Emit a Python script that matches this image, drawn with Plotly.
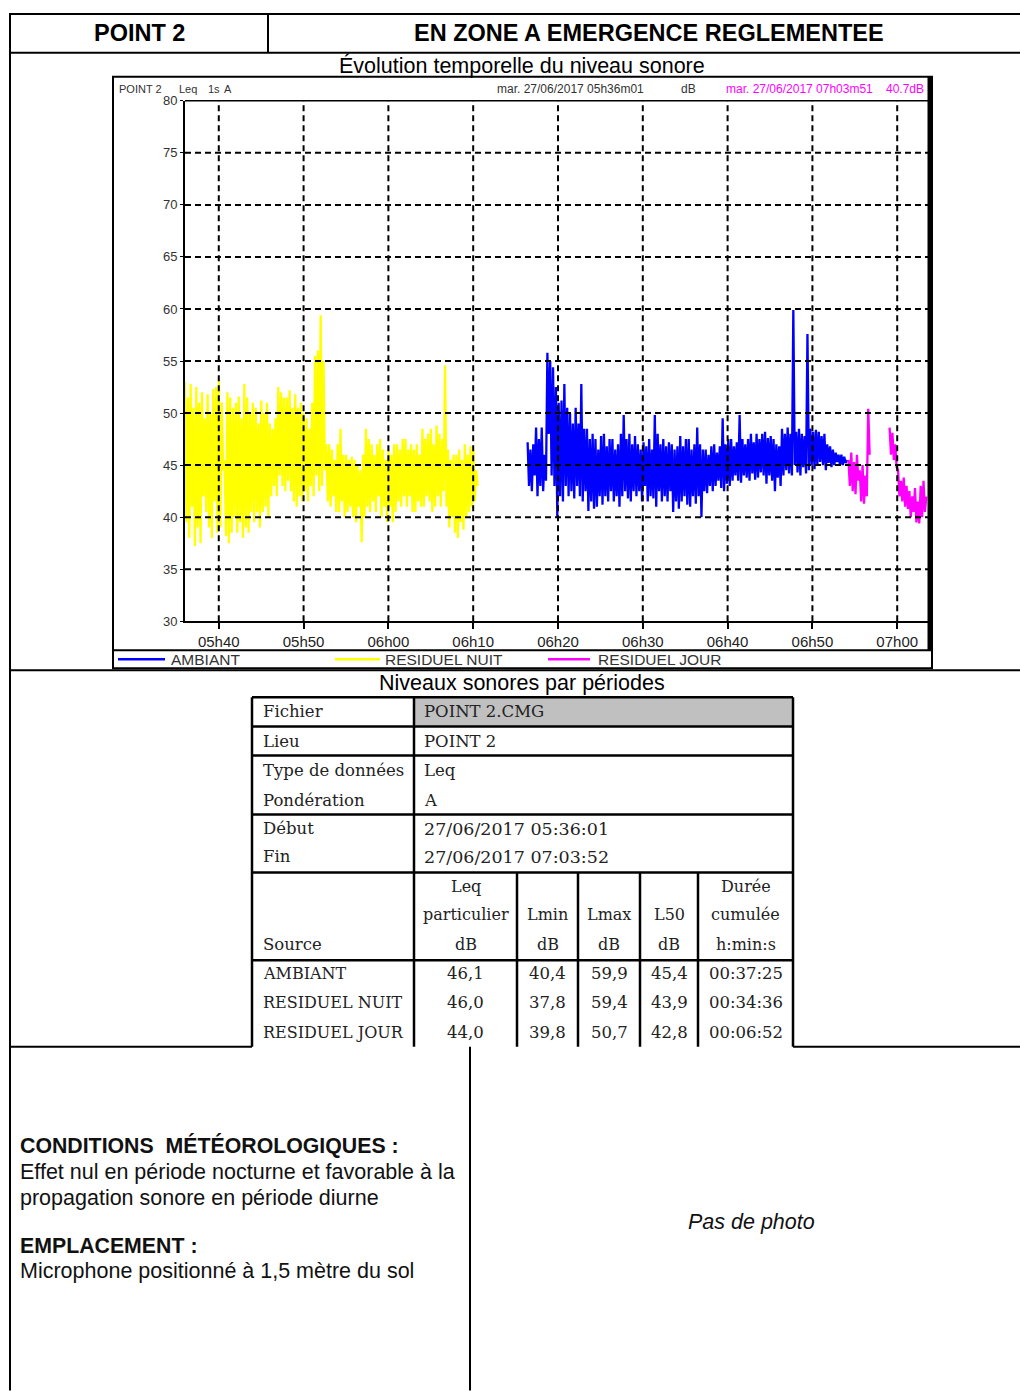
import pandas as pd
import plotly.graph_objects as go

# ---------------- DATA ----------------
DAY = "2017-06-27 "
STEP = "10s"

nuit_start = DAY + "05:36:01"
residuel_nuit = [
    53.0, 39.5, 51.5, 38.0, 52.8, 41.0,
    50.5, 37.2, 52.5, 39.0, 51.0, 37.5,
    52.0, 42.0, 49.5, 40.5, 51.8, 39.0,
    50.0, 38.0, 52.3, 41.5, 52.5, 38.5,
    53.1, 39.0, 51.0, 44.5, 45.5, 38.2,
    52.0, 37.5, 51.5, 38.5, 50.5, 40.0,
    51.0, 38.5, 51.6, 39.5, 49.5, 38.0,
    52.8, 39.0, 51.5, 38.5, 50.0, 40.5,
    51.0, 39.5, 50.5, 40.5, 49.0, 39.0,
    51.2, 40.5, 50.0, 41.0, 51.0, 40.0,
    49.0, 42.0, 48.5, 43.0, 49.5, 42.0,
    52.5, 44.0, 52.0, 43.0, 51.5, 42.5,
    51.5, 43.5, 52.2, 42.5, 50.5, 41.5,
    51.8, 41.0, 50.5, 42.0, 51.0, 41.5,
    50.0, 42.5, 49.5, 41.5, 48.5, 43.0,
    51.0, 42.0, 55.5, 44.0, 56.0, 42.5,
    59.4, 43.0, 55.0, 44.5, 47.0, 41.5,
    47.0, 41.0, 46.5, 42.0, 45.5, 40.5,
    47.0, 40.5, 48.5, 41.5, 46.0, 40.0,
    46.0, 40.5, 45.5, 41.0, 45.8, 40.0,
    45.5, 39.5, 45.0, 41.0, 44.5, 37.6,
    46.0, 40.0, 48.5, 41.0, 47.5, 40.5,
    47.0, 41.5, 46.0, 40.5, 47.0, 42.0,
    47.5, 40.0, 46.5, 41.0, 45.5, 39.5,
    46.5, 41.0, 46.0, 39.5, 47.0, 40.5,
    47.0, 41.5, 46.5, 41.0, 47.5, 42.0,
    47.5, 41.0, 46.5, 42.0, 47.0, 40.5,
    46.5, 40.5, 47.0, 41.5, 46.0, 41.0,
    48.5, 41.0, 47.5, 42.0, 48.0, 41.5,
    48.5, 40.5, 47.0, 41.0, 48.8, 42.0,
    48.0, 41.0, 47.5, 42.5, 54.6, 41.0,
    46.5, 39.0, 45.5, 40.0, 46.0, 38.5,
    46.0, 38.0, 46.5, 39.5, 45.5, 38.8,
    47.0, 40.0, 46.0, 40.5, 46.8, 41.0,
    46.5, 41.5, 44.5, 43.0,
]

ambiant_start = DAY + "06:16:25"
ambiant = [
    47.2, 43.0, 46.5, 42.5, 47.0, 44.0,
    48.6, 42.0, 47.5, 43.0, 48.6, 42.5,
    46.0, 43.5, 55.8, 48.0, 55.0, 44.0,
    54.4, 43.0, 52.5, 40.0, 51.0, 42.0,
    51.2, 41.5, 52.8, 43.0, 50.5, 42.0,
    50.0, 42.5, 49.0, 41.8, 50.5, 43.0,
    49.0, 42.0, 52.8, 41.5, 48.5, 42.5,
    48.5, 40.6, 47.5, 41.5, 48.0, 40.8,
    47.5, 41.0, 46.5, 42.0, 47.8, 41.2,
    48.0, 42.0, 46.8, 41.5, 47.5, 42.5,
    47.5, 41.5, 46.5, 42.0, 47.0, 41.0,
    48.0, 42.0, 49.8, 42.5, 47.5, 41.8,
    48.0, 41.5, 47.0, 42.5, 47.8, 42.0,
    47.0, 42.5, 46.5, 41.5, 47.2, 43.0,
    46.8, 41.5, 47.5, 42.0, 46.5, 41.8,
    49.8, 41.0, 48.0, 42.5, 47.0, 41.5,
    47.5, 42.0, 46.8, 41.5, 47.2, 42.5,
    47.0, 40.5, 46.5, 41.5, 46.8, 40.8,
    47.8, 41.5, 46.8, 42.0, 47.5, 41.2,
    47.5, 41.0, 46.5, 42.0, 47.0, 41.3,
    48.6, 42.0, 47.0, 40.0, 46.5, 42.5,
    46.5, 42.3, 46.0, 43.0, 46.8, 42.5,
    47.0, 43.0, 46.2, 43.5, 46.8, 42.8,
    49.5, 42.5, 47.0, 43.2, 47.5, 43.0,
    47.5, 43.5, 46.8, 44.0, 47.2, 43.5,
    49.8, 43.3, 47.5, 44.0, 47.0, 43.8,
    47.5, 43.5, 48.0, 44.2, 47.2, 43.6,
    48.0, 43.8, 47.5, 44.3, 48.0, 44.0,
    48.2, 43.2, 47.6, 44.0, 47.8, 43.5,
    47.5, 42.5, 47.0, 43.8, 46.8, 43.0,
    48.5, 44.0, 48.0, 44.5, 48.6, 44.2,
    48.0, 44.0, 59.9, 45.0, 48.2, 44.3,
    48.5, 44.0, 48.0, 44.8, 47.8, 44.2,
    57.6, 44.5, 48.5, 45.0, 48.2, 44.6,
    48.4, 45.0, 48.2, 45.3, 47.8, 45.0,
    48.0, 44.5, 47.0, 45.2, 46.8, 44.8,
    46.5, 45.0, 46.2, 45.3, 46.0, 45.0,
    46.0, 45.0, 45.8, 45.2, 45.5,
]

jour1_start = DAY + "06:54:15"
residuel_jour_1 = [45.5, 43.0, 46.2, 42.5, 45.3, 42.2, 46.0, 43.5,
                   44.5, 41.5, 45.0, 41.3, 44.0, 42.0, 50.4, 46.0]
jour2_start = DAY + "06:59:06"
residuel_jour_2 = [48.6, 46.0, 48.1, 45.5, 47.0, 44.8, 44.5, 42.0, 43.5,
                   41.5, 43.8, 41.0, 43.0, 40.8, 42.5, 40.0, 42.0, 40.5,
                   42.8, 39.5, 41.5, 39.4, 43.0, 40.0, 43.5, 40.5, 42.0]

x_range = [DAY + "05:36:01", DAY + "07:03:52"]
x_ticks = ["05:40", "05:50", "06:00", "06:10", "06:20", "06:30", "06:40", "06:50", "07:00"]
y_ticks = [30, 35, 40, 45, 50, 55, 60, 65, 70, 75, 80]

series_names = ["AMBIANT", "RESIDUEL NUIT", "RESIDUEL JOUR"]
series_colors = ["#0000ff", "#ffff00", "#ff00ff"]

info_labels = ["Fichier", "Lieu", "Type de données", "Pondération", "Début", "Fin"]
info_values = ["POINT 2.CMG", "POINT 2", "Leq", "A", "27/06/2017 05:36:01", "27/06/2017 07:03:52"]
col_headers = [["Leq", "particulier", "dB"], ["", "Lmin", "dB"], ["", "Lmax", "dB"],
               ["", "L50", "dB"], ["Durée", "cumulée", "h:min:s"]]
sources = ["AMBIANT", "RESIDUEL NUIT", "RESIDUEL JOUR"]
leq = ["46,1", "46,0", "44,0"]
lmin = ["40,4", "37,8", "39,8"]
lmax = ["59,9", "59,4", "50,7"]
l50 = ["45,4", "43,9", "42,8"]
duree = ["00:37:25", "00:34:36", "00:06:52"]

# ---------------- FIGURE ----------------
W, H = 1020, 1391
# vertical calibration measured from a previous render (screen = 0.9903 * page + 6.1)
VS, VO = 0.9903, 6.1
def X(px): return px / W
def Y(py): return 1 - ((py - VO) / VS) / H

def times(start, n):
    return pd.date_range(start, periods=n, freq=STEP)

fig = go.Figure()
LW = 2.3
fig.add_trace(go.Scatter(x=times(nuit_start, len(residuel_nuit)), y=residuel_nuit, mode="lines",
                         line=dict(color=series_colors[1], width=LW), showlegend=False))
fig.add_trace(go.Scatter(x=times(ambiant_start, len(ambiant)), y=ambiant, mode="lines",
                         line=dict(color=series_colors[0], width=LW), showlegend=False))
fig.add_trace(go.Scatter(x=times(jour1_start, len(residuel_jour_1)), y=residuel_jour_1, mode="lines",
                         line=dict(color=series_colors[2], width=LW), showlegend=False))
fig.add_trace(go.Scatter(x=times(jour2_start, len(residuel_jour_2)), y=residuel_jour_2, mode="lines",
                         line=dict(color=series_colors[2], width=LW), showlegend=False))

SANS = "Liberation Sans, Arial, sans-serif"
SERIF = "DejaVu Serif, serif"

fig.update_layout(
    width=W, height=H, autosize=False,
    margin=dict(l=0, r=0, t=0, b=0, pad=0),
    paper_bgcolor="white", plot_bgcolor="white",
    xaxis=dict(type="date", range=x_range, domain=[X(185), X(930)],
               tickvals=[DAY + t for t in x_ticks], tickformat="%Hh%M",
               showgrid=False, zeroline=False, showline=True, linecolor="black", linewidth=2,
               ticks="outside", ticklen=6, tickwidth=2, tickcolor="black",
               tickfont=dict(family=SANS, size=15, color="#222")),
    yaxis=dict(range=[30, 80], domain=[Y(621), Y(100)], tickvals=y_ticks,
               showgrid=False, zeroline=False, showline=True, linecolor="black", linewidth=2,
               ticks="outside", ticklen=3, tickwidth=1, tickcolor="black",
               tickfont=dict(family=SANS, size=13, color="#333")),
)

shapes = []
def line(x0, y0, x1, y1, w=2, color="black"):
    shapes.append(dict(type="line", xref="paper", yref="paper", x0=X(x0), y0=Y(y0), x1=X(x1), y1=Y(y1),
                       line=dict(color=color, width=w)))

# grid (drawn above data, like the reference)
for t in x_ticks:
    shapes.append(dict(type="line", xref="x", yref="y domain", x0=DAY + t, x1=DAY + t, y0=0, y1=1,
                       line=dict(color="black", width=2, dash="6px,4px")))
for v in y_ticks[1:-1]:
    shapes.append(dict(type="line", xref="x domain", yref="y", x0=0, x1=1, y0=v, y1=v,
                       line=dict(color="black", width=2, dash="6px,4px")))
shapes.append(dict(type="line", xref="x domain", yref="y domain", x0=0, x1=1, y0=1, y1=1,
                   line=dict(color="black", width=1.5)))

# page frame
line(10, 13, 1020, 13)
line(10, 52, 1020, 52)
line(10, 12, 10, 1391)
line(268, 13, 268, 52)
line(10, 670, 1020, 670)
line(10, 1047, 252, 1047)
line(793, 1047, 1020, 1047)
line(470, 1047, 470, 1391)

# chart frame
shapes.append(dict(type="rect", xref="paper", yref="paper", x0=X(113), y0=Y(668), x1=X(932), y1=Y(76),
                   line=dict(color="black", width=2)))
line(113, 650, 932, 650)
line(930, 76, 930, 650, w=5)

# legend samples
legend_x = [(118, 165, 170), (335, 380, 384), (548, 590, 597)]
for (a, b, _), c in zip(legend_x, series_colors):
    line(a, 659, b, 659, w=2.5, color=c)

# table
TL, TC, TR = 252, 414, 793
rows_y = [697, 726.5, 755.5, 814.5, 872.5, 960.5]
TB = 1047
shapes.append(dict(type="rect", xref="paper", yref="paper", x0=X(TC), y0=Y(726.5), x1=X(TR), y1=Y(697),
                   fillcolor="#c0c0c0", line=dict(width=0), layer="below"))
for ry in rows_y:
    line(TL, ry, TR, ry, w=2.5)
line(TL, 697, TL, TB, w=2.5)
line(TC, 697, TC, TB, w=2.5)
line(TR, 697, TR, TB, w=2.5)
sub_cols = [414, 517, 578, 640, 698, 793]
for cx in sub_cols[1:-1]:
    line(cx, 872.5, cx, TB, w=2.5)

fig.update_layout(shapes=shapes)

ann = []
def text(x, y, s, size=20, anchor="left", color="black", family=SANS):
    ann.append(dict(xref="paper", yref="paper", x=X(x), y=Y(y), text=s, showarrow=False,
                    xanchor=anchor, yanchor="middle", borderpad=0,
                    font=dict(family=family, size=size, color=color)))

# page headings
text(139, 32, "<b>POINT 2</b>", 23.5, "center")
text(649, 32, "<b>EN ZONE A EMERGENCE REGLEMENTEE</b>", 23.5, "center")
text(522, 65, "Évolution temporelle du niveau sonore", 21.5, "center")

# chart header line
hc = "#333"
text(118, 88, "POINT 2", 11, "left", hc)
text(178, 88, "Leq", 11, "left", hc)
text(207, 88, "1s", 11, "left", hc)
text(223, 88, "A", 11, "left", hc)
text(645, 88, "mar. 27/06/2017 05h36m01", 12, "right", hc)
text(688, 88, "dB", 12, "center", hc)
text(874, 88, "mar. 27/06/2017 07h03m51", 12, "right", "#ff00ff")
text(925, 88, "40.7dB", 12, "right", "#ff00ff")

# legend labels
for (_, _, tx), name in zip(legend_x, series_names):
    text(tx, 659, name, 15.5, "left", "#333")

# table
text(522, 683, "Niveaux sonores par périodes", 21.5, "center")
tc = "#222222"
info_y = [711, 741, 770, 800, 829, 857]
for lab, val, yy in zip(info_labels, info_values, info_y):
    text(262, yy, lab, 16.5, "left", tc, SERIF)
    text(423, yy, val, 17.5 if "/" in val else 16.5, "left", tc, SERIF)
head_y = [887, 915, 945]
for i, hdr in enumerate(col_headers):
    cx = (sub_cols[i] + sub_cols[i + 1]) / 2
    for s, yy in zip(hdr, head_y):
        if s:
            text(cx, yy, s, 16, "center", tc, SERIF)
text(262, 945, "Source", 16.5, "left", tc, SERIF)
data_y = [974, 1003, 1033]
for j, yy in enumerate(data_y):
    text(262, yy, sources[j], 16, "left", tc, SERIF)
    for i, col in enumerate([leq, lmin, lmax, l50, duree]):
        cx = (sub_cols[i] + sub_cols[i + 1]) / 2
        text(cx, yy, col[j], 16.5, "center", tc, SERIF)

# bottom section
bc = "#111"
text(19, 1146, "<b>CONDITIONS\u00a0\u00a0MÉTÉOROLOGIQUES :</b>", 21.3, "left", bc)
text(19, 1172, "Effet nul en période nocturne et favorable à la", 21.5, "left", bc)
text(19, 1198, "propagation sonore en période diurne", 21.5, "left", bc)
text(19, 1246, "<b>EMPLACEMENT :</b>", 21.3, "left", bc)
text(19, 1271, "Microphone positionné à 1,5 mètre du sol", 21.5, "left", bc)
text(751, 1222, "<i>Pas de photo</i>", 21.5, "center", bc)

fig.update_layout(annotations=ann)

fig.write_html(
    "out.html",
    config={"displayModeBar": False},
    post_script=("document.documentElement.style.margin='0';"
                 "document.body.style.margin='0';"),
)
